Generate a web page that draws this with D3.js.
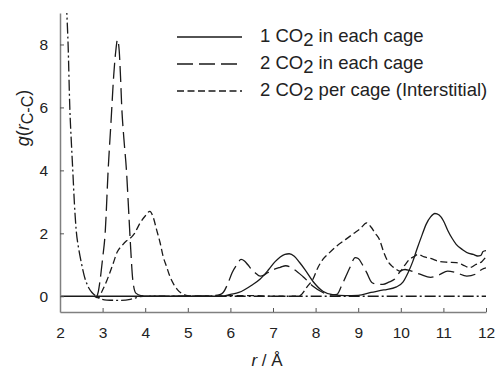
<!DOCTYPE html>
<html>
<head>
<meta charset="utf-8">
<script src="https://cdn.jsdelivr.net/npm/d3@7"></script>
<style>
  body { margin: 0; background: #fff; }
  svg { display: block; font-family: "Liberation Sans", Arial, sans-serif; }
</style>
</head>
<body>
<div id="chart"></div>
<script>
// radial distribution data
var rOne = [2, 5.8, 6.0, 6.2, 6.5, 6.7, 6.9, 7.05, 7.17, 7.28, 7.38, 7.5, 7.62, 7.75, 7.94, 8.17, 8.4, 8.7, 9.0, 9.3, 9.6, 9.9, 10.05, 10.17, 10.28, 10.38, 10.5, 10.6, 10.7, 10.8, 10.9, 11.0, 11.1, 11.2, 11.3, 11.45, 11.6, 11.7, 11.8, 11.88, 11.93, 12];
var gOne = [0, 0, 0.06, 0.12, 0.35, 0.55, 0.85, 1.1, 1.25, 1.33, 1.35, 1.27, 1.08, 0.85, 0.47, 0.16, 0.05, 0.02, 0.03, 0.12, 0.2, 0.3, 0.45, 0.75, 1.1, 1.5, 1.95, 2.3, 2.52, 2.63, 2.58, 2.4, 2.1, 1.85, 1.65, 1.48, 1.36, 1.33, 1.28, 1.3, 1.42, 1.45];

var rTwo = [2.85, 2.9, 2.94, 3.0, 3.06, 3.13, 3.2, 3.26, 3.31, 3.35, 3.39, 3.42, 3.45, 3.5, 3.56, 3.62, 3.66, 3.71, 3.78, 3.9, 4.2, 5.0, 5.6, 5.75, 5.83, 5.94, 6.04, 6.15, 6.25, 6.33, 6.41, 6.5, 6.58, 6.7, 6.8, 6.93, 7.05, 7.17, 7.3, 7.4, 7.5, 7.7, 7.94, 8.17, 8.33, 8.5, 8.6, 8.7, 8.8, 8.93, 9.0, 9.1, 9.2, 9.32, 9.45, 9.58, 9.72, 9.85, 10.0, 10.1, 10.2, 10.45, 10.7, 10.9, 11.1, 11.3, 11.55, 11.75, 11.9, 12];
var gTwo = [-0.05, 0.15, 0.5, 1.2, 2.0, 4.0, 5.6, 7.0, 7.8, 8.15, 7.8, 7.0, 6.0, 5.0, 4.0, 2.5, 1.5, 0.5, 0.1, 0.02, 0.0, 0.0, 0.02, 0.05, 0.12, 0.4, 0.75, 1.0, 1.17, 1.12, 1.0, 0.85, 0.75, 0.64, 0.68, 0.8, 0.87, 0.92, 0.97, 0.93, 0.85, 0.63, 0.32, 0.12, 0.04, 0.06, 0.3, 0.6, 0.9, 1.23, 1.2, 1.0, 0.75, 0.44, 0.38, 0.38, 0.45, 0.54, 0.8, 0.85, 0.82, 0.7, 0.6, 0.68, 0.8, 0.75, 0.64, 0.7, 0.85, 0.9];

var rInter = [2.8, 2.9, 3.0, 3.1, 3.17, 3.25, 3.34, 3.45, 3.55, 3.64, 3.75, 3.88, 4.0, 4.11, 4.19, 4.27, 4.35, 4.42, 4.5, 4.58, 4.67, 4.75, 4.9, 5.0, 5.5, 6.0, 6.5, 7.0, 7.5, 7.63, 7.8, 7.94, 8.05, 8.17, 8.3, 8.5, 8.7, 8.9, 9.05, 9.2, 9.3, 9.4, 9.5, 9.6, 9.7, 9.8, 9.9, 9.98, 10.1, 10.2, 10.3, 10.4, 10.55, 10.7, 10.92, 11.1, 11.3, 11.45, 11.62, 11.75, 11.9, 12];
var gInter = [0.0, -0.05, 0.2, 0.5, 0.75, 1.05, 1.4, 1.6, 1.75, 1.83, 2.0, 2.33, 2.55, 2.7, 2.5, 2.1, 1.7, 1.27, 0.95, 0.63, 0.38, 0.22, 0.06, 0.02, 0.0, 0.02, 0.02, 0.0, 0.0, 0.02, 0.3, 0.55, 0.9, 1.17, 1.35, 1.6, 1.8, 2.0, 2.15, 2.33, 2.2, 2.0, 1.8, 1.4, 1.1, 0.95, 0.85, 0.8, 1.0, 1.17, 1.25, 1.33, 1.25, 1.2, 1.1, 1.08, 1.07, 1.0, 0.91, 1.0, 1.1, 1.25];

// unlabelled dash-dot trace
var rDot = [2.1, 2.16, 2.19, 2.23, 2.27, 2.3, 2.34, 2.38, 2.44, 2.5, 2.59, 2.67, 2.75, 2.85, 2.95, 3.1, 3.4, 3.65, 3.8, 3.95, 12];
var gDot = [10.5, 9.0, 8.0, 6.0, 4.8, 4.0, 2.9, 2.1, 1.5, 1.07, 0.55, 0.28, 0.12, 0.0, -0.08, -0.12, -0.13, -0.1, -0.04, 0, 0];

var xTicks = [2, 3, 4, 5, 6, 7, 8, 9, 10, 11, 12];
var yTicks = [0, 2, 4, 6, 8];

var legendNames = ["in each cage", "in each cage", "per cage (Interstitial)"];
var legendCounts = ["1", "2", "2"];

var W = 497, H = 369;
var margin = {top: 13, right: 11, bottom: 57, left: 60};
var width = W - margin.left - margin.right,
    height = H - margin.top - margin.bottom;

var x = d3.scaleLinear().domain([2, 12]).range([0, width]);
var y = d3.scaleLinear().domain([-0.5, 9]).range([height, 0]);

var svg = d3.select("#chart").append("svg")
    .attr("width", W).attr("height", H);
var g = svg.append("g")
    .attr("transform", "translate(" + margin.left + "," + margin.top + ")");

g.append("clipPath").attr("id", "clip")
  .append("rect").attr("width", width).attr("height", height);

function pts(rs, gs) { return rs.map(function(r, i) { return [r, gs[i]]; }); }

var line = d3.line()
    .x(function(d) { return x(d[0]); })
    .y(function(d) { return y(d[1]); })
    .curve(d3.curveMonotoneX);

var series = [
  {data: pts(rDot, gDot), dash: "11,3,2,3"},
  {data: pts(rInter, gInter), dash: "7,3.5"},
  {data: pts(rTwo, gTwo), dash: "16,6"},
  {data: pts(rOne, gOne), dash: null}
];

var plot = g.append("g").attr("clip-path", "url(#clip)");
series.forEach(function(s) {
  plot.append("path")
      .datum(s.data)
      .attr("fill", "none")
      .attr("stroke", "#1a1a1a")
      .attr("stroke-width", 1.3)
      .attr("stroke-dasharray", s.dash)
      .attr("d", line);
});

// axes
var xAxis = g.append("g")
    .attr("transform", "translate(0," + height + ")")
    .call(d3.axisBottom(x).tickValues(xTicks).tickSize(-4).tickPadding(15).tickSizeOuter(0));
var yAxis = g.append("g")
    .call(d3.axisLeft(y).tickValues(yTicks).tickSize(-4).tickPadding(12).tickSizeOuter(0));

[xAxis, yAxis].forEach(function(a) {
  a.select(".domain").attr("stroke", "#808080").attr("stroke-width", 1.5);
  a.selectAll(".tick line").attr("stroke", "#555");
  a.selectAll(".tick text").attr("fill", "#222")
      .style("font-size", "15.5px").style("font-family", "Liberation Sans, Arial, sans-serif");
});

// axis titles
svg.append("text")
    .attr("x", 267).attr("y", 366)
    .attr("text-anchor", "middle")
    .style("font-size", "17px").attr("fill", "#222")
    .html('<tspan font-style="italic">r</tspan> / Å');

var yt = svg.append("text")
    .attr("transform", "translate(29,118) rotate(-90)")
    .attr("text-anchor", "middle")
    .style("font-size", "18px").attr("fill", "#222");
yt.append("tspan").attr("font-style", "italic").text("g");
yt.append("tspan").text("(");
yt.append("tspan").attr("font-style", "italic").text("r");
yt.append("tspan").attr("dy", 4).style("font-size", "16px").text("C-C");
yt.append("tspan").attr("dy", -4).text(")");

// legend
var legDash = [null, "16,6", "7,3.5"];
var leg = svg.append("g");
legendNames.forEach(function(name, i) {
  var ly = 37 + i * 27;
  leg.append("line")
      .attr("x1", 177).attr("x2", 242)
      .attr("y1", ly).attr("y2", ly)
      .attr("stroke", "#1a1a1a").attr("stroke-width", 1.3)
      .attr("stroke-dasharray", legDash[i]);
  var t = leg.append("text")
      .attr("x", 260).attr("y", ly + 5)
      .style("font-size", "18.5px").attr("fill", "#222");
  t.append("tspan").text(legendCounts[i] + " CO");
  t.append("tspan").attr("dy", 4).text("2");
  t.append("tspan").attr("dy", -4).text(" " + name);
});
</script>
</body>
</html>
